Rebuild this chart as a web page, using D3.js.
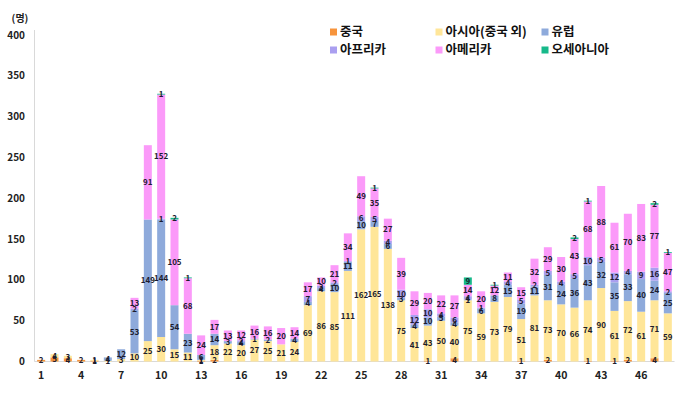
<!DOCTYPE html>
<html>
<head>
<meta charset="utf-8">
<script src="https://cdn.jsdelivr.net/npm/d3@7"></script>
<style>
  body { margin: 0; background: #fff; }
  svg text { font-family: "Noto Sans CJK KR", "Noto Sans", sans-serif; font-weight: bold; }
</style>
</head>
<body>
<div id="chart"></div>
<script>
// Weeks 1..48
const weeks = d3.range(1, 49);
const tickWeeks = [1, 4, 7, 10, 13, 16, 19, 22, 25, 28, 31, 34, 37, 40, 43, 46];
const yTicks = [0, 50, 100, 150, 200, 250, 300, 350, 400];

const seriesNames = ["중국", "아시아(중국 외)", "유럽", "아프리카", "아메리카", "오세아니아"];
const seriesColors = ["#f7943c", "#ffe699", "#8eaadb", "#aa9ff0", "#fb9af9", "#17b98a"];

// Values per week
const china    = [2,5,4,2,1,0,0,0,0,0,0,0,1,2,0,0,0,0,0,0,0,0,0,0,0,0,0,0,0,1,0,4,0,0,0,0,1,0,2,0,0,1,0,1,2,0,4,0];
const asia     = [0,4,3,0,1,1,3,10,25,30,15,11,1,18,22,20,27,25,21,24,69,86,85,111,162,165,138,75,41,43,50,40,75,59,73,79,51,81,73,70,66,74,90,61,72,61,71,59];
const europe   = [0,0,0,0,0,4,12,53,149,144,54,23,6,14,3,4,1,2,0,4,4,4,10,11,10,7,6,3,4,10,5,4,1,6,8,15,19,11,31,24,36,43,32,35,33,40,24,25];
const africa   = [0,0,0,0,0,0,0,2,0,1,0,0,0,0,0,2,0,0,0,0,7,3,2,1,6,5,4,10,12,10,4,6,4,1,0,4,5,2,5,4,5,10,5,12,4,9,16,2];
const america  = [0,0,0,0,0,0,0,13,91,152,105,68,24,17,13,12,16,16,20,14,17,10,21,34,49,35,27,39,29,20,22,27,14,20,12,11,15,32,29,30,43,68,88,61,70,83,77,47];
const oceania  = [0,0,0,0,0,0,0,0,0,1,2,1,0,0,0,0,0,0,0,0,0,0,0,0,0,1,0,0,0,0,0,0,9,0,1,0,0,0,0,0,2,1,0,0,0,0,2,1];

const seriesValues = [china, asia, europe, africa, america, oceania];

const W = 680, H = 398;
const svg = d3.select("#chart").append("svg")
    .attr("width", W)
    .attr("height", H);

// Scales
let x = d3.scaleBand()
    .domain(weeks)
    .range([34.5, 674.5])
    .paddingInner(0.4)
    .paddingOuter(0.2);

let y = d3.scaleLinear()
    .domain([0, 400])
    .range([361.5, 35]);

// Stack data
const table = weeks.map((w, i) => {
    const row = { week: w };
    seriesNames.forEach((s, k) => row[s] = seriesValues[k][i]);
    return row;
});
const stacked = d3.stack().keys(seriesNames)(table);

// y axis line (light)
svg.append("line")
    .attr("x1", 34.5).attr("x2", 34.5)
    .attr("y1", 30).attr("y2", 361.5)
    .attr("stroke", "#d9d9d9");
svg.append("line")
    .attr("x1", 34.5).attr("x2", 674.5)
    .attr("y1", 361.5).attr("y2", 361.5)
    .attr("stroke", "#d9d9d9");

// y tick labels
svg.append("g")
  .selectAll("text")
  .data(yTicks)
  .join("text")
    .attr("x", 25)
    .attr("y", d => y(d))
    .attr("dy", "0.35em")
    .attr("text-anchor", "end")
    .attr("font-size", 10)
    .attr("fill", "#222")
    .text(d => d);

svg.append("text")
    .attr("x", 20).attr("y", 22)
    .attr("text-anchor", "middle")
    .attr("font-size", 10)
    .attr("fill", "#222")
    .text("(명)");

// x tick labels
svg.append("g")
  .selectAll("text")
  .data(tickWeeks)
  .join("text")
    .attr("x", d => x(d) + x.bandwidth() / 2)
    .attr("y", 375)
    .attr("dy", "0.35em")
    .attr("text-anchor", "middle")
    .attr("font-size", 10.5)
    .attr("fill", "#222")
    .text(d => d);

// Bars
const layer = svg.append("g")
  .selectAll("g")
  .data(stacked)
  .join("g")
    .attr("fill", (d, i) => seriesColors[i]);

layer.selectAll("rect")
  .data(d => d.filter(p => p[1] - p[0] > 0))
  .join("rect")
    .attr("x", d => x(d.data.week))
    .attr("width", x.bandwidth())
    .attr("y", d => y(d[1]))
    .attr("height", d => y(d[0]) - y(d[1]));

// Data labels
const labels = svg.append("g");
stacked.forEach(s => {
    labels.selectAll(null)
      .data(s.filter(p => p[1] - p[0] > 0))
      .join("text")
        .attr("x", d => x(d.data.week) + x.bandwidth() / 2)
        .attr("y", d => (y(d[0]) + y(d[1])) / 2)
        .attr("dy", "0.35em")
        .attr("text-anchor", "middle")
        .attr("font-size", 8)
        .attr("fill", "#1c1c2e")
        .text(d => d[1] - d[0]);
});

// Legend
const legCols = [330, 435.5, 541.5];
const legRows = [32, 50];
const legend = svg.append("g")
  .selectAll("g")
  .data(seriesNames)
  .join("g")
    .attr("transform", (d, i) => "translate(" + legCols[i % 3] + "," + legRows[Math.floor(i / 3)] + ")");
legend.append("rect")
    .attr("x", 0).attr("y", -3.5)
    .attr("width", 7).attr("height", 7)
    .attr("fill", (d, i) => seriesColors[i]);
legend.append("text")
    .attr("x", 10)
    .attr("dy", "0.35em")
    .attr("font-size", 12.5)
    .attr("fill", "#111")
    .text(d => d);
</script>
</body>
</html>
